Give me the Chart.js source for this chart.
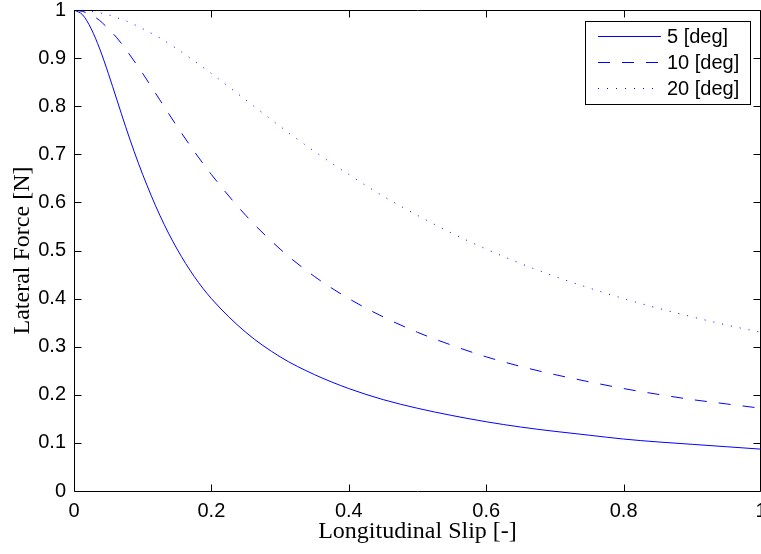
<!DOCTYPE html>
<html><head><meta charset="utf-8">
<script src="https://cdn.jsdelivr.net/npm/chart.js@4/dist/chart.umd.min.js"></script>
<style>html,body{margin:0;padding:0;background:#fff}canvas{display:block}</style>
</head><body>
<canvas id="c" width="761" height="554"></canvas>
<script>
// ---- data ----
const slip = [0, 0.0125, 0.025, 0.0375, 0.05, 0.0625, 0.075, 0.0875, 0.1, 0.125, 0.15, 0.175, 0.2, 0.25, 0.3, 0.35, 0.4, 0.45, 0.5, 0.55, 0.6, 0.65, 0.7, 0.75, 0.8, 0.85, 0.9, 0.95, 1.0];
const force5 = [1, 0.990, 0.961, 0.919, 0.868, 0.813, 0.758, 0.706, 0.658, 0.573, 0.503, 0.446, 0.400, 0.330, 0.279, 0.242, 0.213, 0.190, 0.172, 0.157, 0.144, 0.133, 0.124, 0.116, 0.108, 0.102, 0.097, 0.092, 0.087];
const force10 = [1, 0.997, 0.990, 0.978, 0.961, 0.942, 0.919, 0.894, 0.868, 0.813, 0.758, 0.706, 0.658, 0.573, 0.503, 0.446, 0.400, 0.362, 0.330, 0.303, 0.279, 0.259, 0.242, 0.227, 0.213, 0.201, 0.190, 0.181, 0.172];
const force20 = [1, 0.999, 0.997, 0.994, 0.990, 0.984, 0.978, 0.970, 0.961, 0.942, 0.919, 0.894, 0.868, 0.813, 0.758, 0.706, 0.658, 0.613, 0.573, 0.536, 0.503, 0.473, 0.446, 0.422, 0.400, 0.380, 0.362, 0.345, 0.330];
const seriesLabels = ['5 [deg]', '10 [deg]', '20 [deg]'];
const xTicks = [0, 0.2, 0.4, 0.6, 0.8, 1];
const yTicks = [0, 0.1, 0.2, 0.3, 0.4, 0.5, 0.6, 0.7, 0.8, 0.9, 1];
const xTitle = 'Longitudinal Slip [-]';
const yTitle = 'Lateral Force [N]';

const SANS = "'Liberation Sans', Arial, Helvetica, sans-serif";
const SERIF = "'Liberation Serif', 'Times New Roman', serif";
const fmt = v => String(Math.round(v * 10) / 10);

function toPoints(ys) { return slip.map((x, i) => ({ x: x, y: ys[i] })); }

const styles = [
  { dash: [] },
  { dash: [12, 12] },
  { dash: [1, 8] }
];
const allSeries = [force5, force10, force20];

const datasets = allSeries.map((ys, i) => ({
  label: seriesLabels[i],
  data: toPoints(ys),
  borderColor: '#0000ff',
  backgroundColor: '#0000ff',
  borderWidth: 1,
  borderDash: styles[i].dash,
  pointRadius: 0,
  fill: false,
  cubicInterpolationMode: 'monotone'
}));

const framePlugin = {
  id: 'frame',
  afterDraw(chart) {
    const ctx = chart.ctx;
    const a = chart.chartArea;
    const xs = chart.scales.x, ys = chart.scales.y;
    const L = Math.round(a.left) + 0.5, R = Math.round(a.right) - 0.5;
    const T = Math.round(a.top) + 0.5, B = Math.round(a.bottom) + 0.5;
    ctx.save();
    ctx.strokeStyle = '#000';
    ctx.lineWidth = 1;
    ctx.setLineDash([]);
    ctx.beginPath();
    ctx.moveTo(L, T); ctx.lineTo(R, T); ctx.lineTo(R, B); ctx.lineTo(L, B); ctx.closePath();
    ctx.stroke();
    const tl = 7;
    ctx.beginPath();
    xTicks.forEach(v => {
      const px = Math.round(xs.getPixelForValue(v)) + 0.5;
      ctx.moveTo(px, B); ctx.lineTo(px, B - tl);
      ctx.moveTo(px, T); ctx.lineTo(px, T + tl);
    });
    yTicks.forEach(v => {
      const py = Math.round(ys.getPixelForValue(v)) + 0.5;
      ctx.moveTo(L, py); ctx.lineTo(L + tl, py);
      ctx.moveTo(R, py); ctx.lineTo(R - tl, py);
    });
    ctx.stroke();

    // legend
    const bx = 585.5, by = 21.5, bw = 165, bh = 83;
    ctx.fillStyle = '#fff';
    ctx.fillRect(bx, by, bw, bh);
    ctx.strokeRect(bx, by, bw, bh);
    const rowY = [36, 62, 88];
    chart.data.datasets.forEach((ds, i) => {
      const y = rowY[i] + 0.5;
      ctx.strokeStyle = ds.borderColor;
      ctx.lineWidth = ds.borderWidth;
      ctx.setLineDash(ds.borderDash || []);
      ctx.beginPath();
      ctx.moveTo(598, y); ctx.lineTo(661, y);
      ctx.stroke();
      ctx.setLineDash([]);
      ctx.fillStyle = '#000';
      ctx.font = '20px ' + SANS;
      ctx.textBaseline = 'middle';
      ctx.textAlign = 'left';
      ctx.fillText(ds.label, 667, rowY[i] + 1);
    });
    ctx.restore();
  }
};

new Chart(document.getElementById('c'), {
  type: 'line',
  data: { datasets: datasets },
  options: {
    responsive: false,
    animation: false,
    devicePixelRatio: 1,
    layout: { padding: { top: 10, right: 0, left: 0, bottom: 0 } },
    plugins: { legend: { display: false }, tooltip: { enabled: false } },
    scales: {
      x: {
        type: 'linear', min: 0, max: 1,
        afterBuildTicks: s => { s.ticks = xTicks.map(v => ({ value: v })); },
        afterFit: s => { s.height = 63; s.paddingLeft = 0; s.paddingRight = 0; },
        grid: { display: true, drawOnChartArea: false, drawTicks: false },
        border: { display: false },
        ticks: { color: '#000', padding: 8, maxRotation: 0, autoSkip: false,
                 font: { family: SANS, size: 20 }, callback: v => fmt(v) },
        title: { display: true, text: xTitle, color: '#000',
                 font: { family: SERIF, size: 24 }, padding: { top: 0, bottom: 7.5 } }
      },
      y: {
        type: 'linear', min: 0, max: 1,
        afterBuildTicks: s => { s.ticks = yTicks.map(v => ({ value: v })); },
        afterFit: s => { s.width = 74; s.paddingTop = 0; s.paddingBottom = 0; },
        grid: { display: true, drawOnChartArea: false, drawTicks: false },
        border: { display: false },
        ticks: { color: '#000', padding: 8, autoSkip: false,
                 font: { family: SANS, size: 20 }, callback: v => fmt(v) },
        title: { display: true, text: yTitle, color: '#000',
                 font: { family: SERIF, size: 24 }, padding: { top: 8, bottom: 0 } }
      }
    }
  },
  plugins: [framePlugin]
});
</script>
</body></html>
